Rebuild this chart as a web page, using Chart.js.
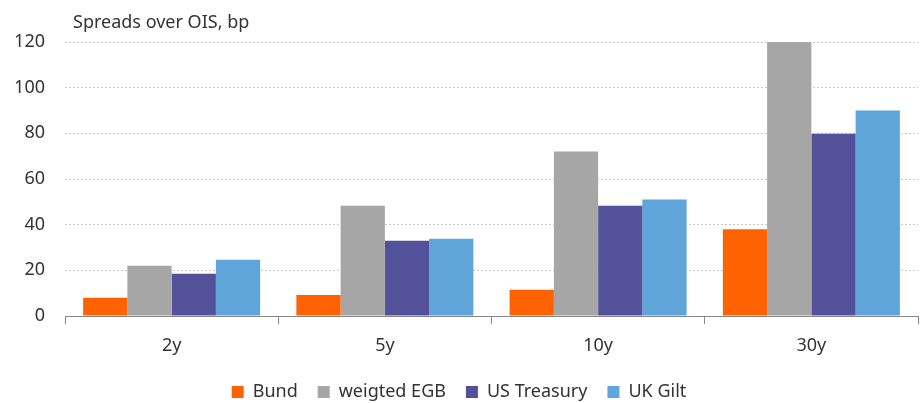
<!DOCTYPE html>
<html>
<head>
<meta charset="utf-8">
<script src="https://cdn.jsdelivr.net/npm/chart.js@4"></script>
<style>
html,body{margin:0;padding:0;background:#fff;}
#wrap{width:922px;height:403px;}
</style>
</head>
<body>
<div id="wrap"><canvas id="c" width="922" height="403"></canvas></div>
<script>
const categories = ["2y", "5y", "10y", "30y"];
const bund = [8, 9.2, 11.5, 38];
const weightedEGB = [22, 48.3, 72, 120];
const usTreasury = [18.5, 33, 48.3, 79.8];
const ukGilt = [24.6, 33.8, 51, 90];
const yTicks = [0, 20, 40, 60, 80, 100, 120];
const seriesNames = ["Bund", "weigted EGB", "US Treasury", "UK Gilt"];
const axisTitle = "Spreads over OIS, bp";

const FONT = "'Noto Sans', Lato, sans-serif";
const colors = ["#FF6200", "#A6A6A6", "#525199", "#5FA5DA"];

const titlePlugin = {
  id: 'topTitle',
  afterInit(chart) {
    const lg = chart.legend;
    if (lg) {
      const origFit = lg.fit;
      lg.fit = function () { origFit.call(this); this.height = 40; };
    }
  },
  afterDraw(chart) {
    const ctx = chart.ctx;
    ctx.save();
    ctx.font = "18px " + FONT;
    ctx.fillStyle = "#333";
    ctx.textBaseline = "alphabetic";
    ctx.fillText(axisTitle, chart.chartArea.left + 8, 28);
    ctx.restore();
  }
};

new Chart(document.getElementById('c'), {
  type: 'bar',
  data: {
    labels: categories,
    datasets: [bund, weightedEGB, usTreasury, ukGilt].map((d, i) => ({
      label: seriesNames[i],
      data: d,
      backgroundColor: colors[i],
      borderWidth: 0,
      categoryPercentage: 0.83,
      barPercentage: 1.0
    }))
  },
  options: {
    responsive: false,
    animation: false,
    layout: { padding: { left: 0, right: 4, top: 42, bottom: 0 } },
    plugins: {
      legend: {
        position: 'bottom',
        labels: {
          boxWidth: 12, boxHeight: 12, padding: 20,
          color: "#333",
          font: { size: 18, family: FONT }
        }
      },
      tooltip: { enabled: false }
    },
    scales: {
      x: {
        afterFit(axis) { axis.height = 47; },
        grid: { offset: true, drawOnChartArea: false, drawTicks: true, tickLength: 8, color: "#888" },
        border: { display: true, color: "#888", width: 1 },
        ticks: { color: "#333", font: { size: 18, family: FONT }, padding: 11 }
      },
      y: {
        min: 0, max: 120,
        afterFit(axis) { axis.width = 65; },
        afterBuildTicks(axis) { axis.ticks = yTicks.map(v => ({ value: v })); },
        grid: { color: "#C8C8C8", drawTicks: false },
        border: { display: false, dash: [2, 2] },
        ticks: { color: "#333", font: { size: 18, family: FONT }, padding: 20 }
      }
    }
  },
  plugins: [titlePlugin]
});
</script>
</body>
</html>
